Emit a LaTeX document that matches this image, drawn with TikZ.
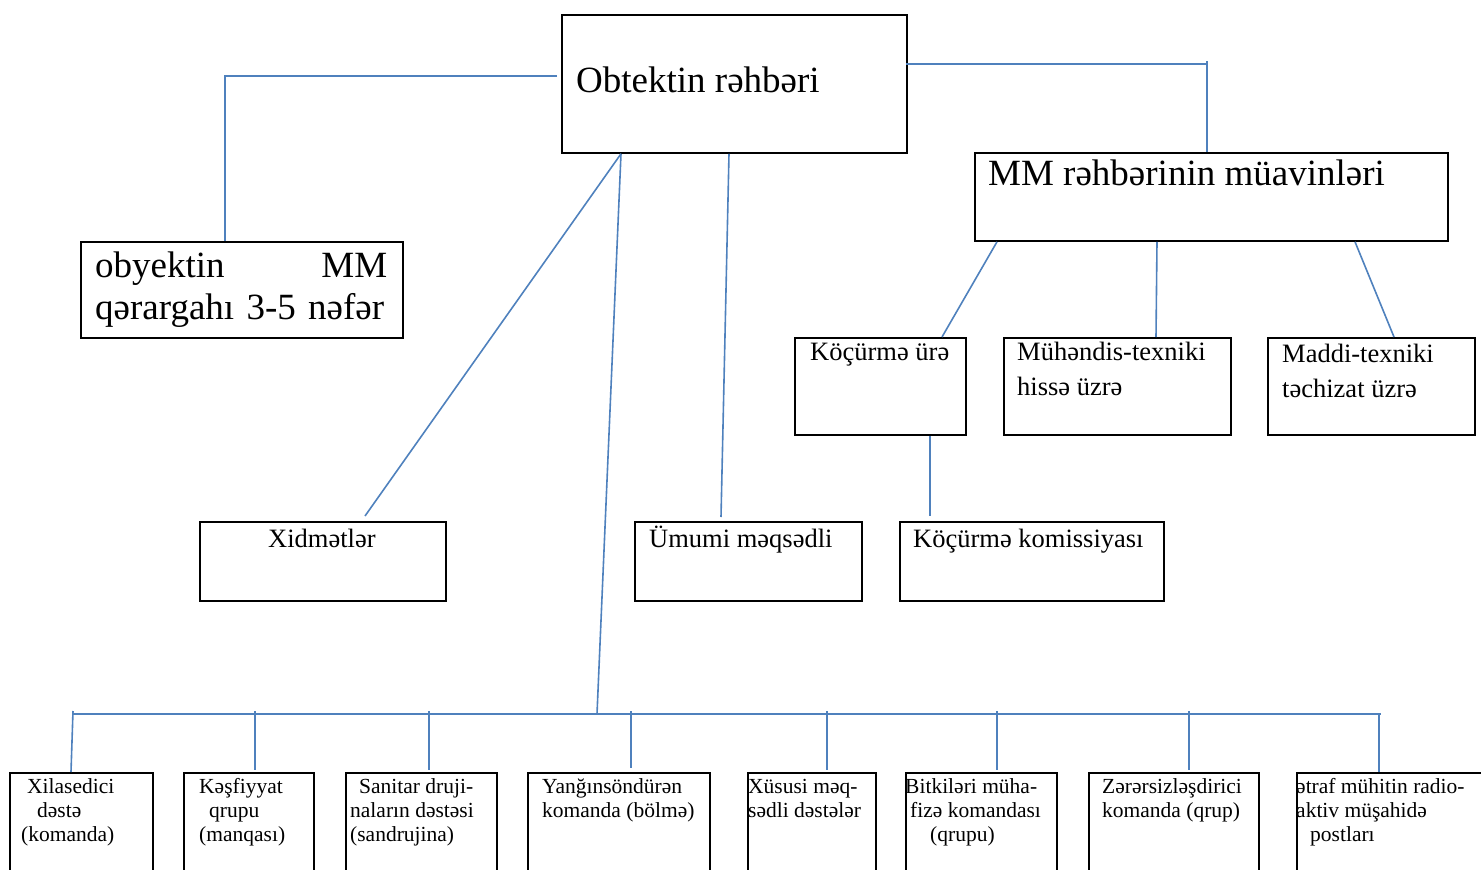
\documentclass[tikz,border=0pt]{standalone}
\usepackage{fontspec}
\setmainfont{Liberation Serif}
\usetikzlibrary{calc}
\definecolor{lnblue}{HTML}{4F81BD}
\tikzset{
  box/.style={draw=black, line width=1.8pt, inner sep=0pt, anchor=north west},
  conn/.style={draw=lnblue, line width=1.6pt},
  bigtxt/.style={font=\fontsize{37}{42}\selectfont, inner sep=0pt, anchor=base west, align=left},
  midtxt/.style={font=\fontsize{26.5}{35}\selectfont, inner sep=0pt, anchor=base west, align=left},
  smalltxt/.style={font=\fontsize{21.5}{24}\selectfont, inner sep=0pt, anchor=base west, align=left},
}
\begin{document}
\begin{tikzpicture}[x=1pt,y=-1pt]
\useasboundingbox (0,0) rectangle (1481,870);
\clip (0,0) rectangle (1481,870);
% boxes
\node[box, minimum width=345pt, minimum height=138pt] (top) at (561,14) {};
\node[box, minimum width=473pt, minimum height=88pt] (dep) at (974,152) {};
\node[box, minimum width=322pt, minimum height=96pt] (hq) at (80,241) {};
\node[box, minimum width=171pt, minimum height=97pt] (kocur) at (794,337) {};
\node[box, minimum width=227pt, minimum height=97pt] (muh) at (1003,337) {};
\node[box, minimum width=207pt, minimum height=97pt] (mad) at (1267,337) {};
\node[box, minimum width=246pt, minimum height=79pt] (xid) at (199,521) {};
\node[box, minimum width=227pt, minimum height=79pt] (umu) at (634,521) {};
\node[box, minimum width=264pt, minimum height=79pt] (kom) at (899,521) {};
\node[box, minimum width=143pt, minimum height=130pt] (b1) at (9,772) {};
\node[box, minimum width=130pt, minimum height=130pt] (b2) at (183,772) {};
\node[box, minimum width=151pt, minimum height=130pt] (b3) at (345,772) {};
\node[box, minimum width=182pt, minimum height=130pt] (b4) at (527,772) {};
\node[box, minimum width=128pt, minimum height=130pt] (b5) at (747,772) {};
\node[box, minimum width=151pt, minimum height=130pt] (b6) at (905,772) {};
\node[box, minimum width=170pt, minimum height=130pt] (b7) at (1088,772) {};
\node[box, minimum width=195pt, minimum height=130pt] (b8) at (1296,772) {};
% texts (anchor = baseline of the last line)
\node[bigtxt] (ttop) at (576,92) {Obtektin rəhbəri};
\node[bigtxt] (tdep) at (988,185) {MM rəhbərinin müavinləri};
\node[bigtxt, text width=292pt, align=left] (thq) at (95,277) {\hbox to 292pt{obyektin\hfill MM}\\qərargahı 3-5 nəfər};
\node[midtxt] (tkocur) at (810,360) {Köçürmə ürə};
\node[midtxt] (tmuh) at (1017,395) {Mühəndis-texniki\\hissə üzrə};
\node[midtxt] (tmad) at (1282,397) {Maddi-texniki\\təchizat üzrə};
\node[midtxt] (txid) at (268,547) {Xidmətlər};
\node[midtxt] (tumu) at (649,547) {Ümumi məqsədli};
\node[midtxt] (tkom) at (913,547) {Köçürmə komissiyası};
\node[smalltxt] (tb1) at (21,841) {\hspace*{6pt}Xilasedici\\\hspace*{16pt}dəstə\\(komanda)};
\node[smalltxt] (tb2) at (199,841) {Kəşfiyyat\\\hspace*{10pt}qrupu\\(manqası)};
\node[smalltxt] (tb3) at (350,841) {\hspace*{9pt}Sanitar druji-\\naların dəstəsi\\(sandrujina)};
\node[smalltxt] (tb4) at (542,817) {Yanğınsöndürən\\komanda (bölmə)};
\node[smalltxt] (tb5) at (748,817) {Xüsusi məq-\\sədli dəstələr};
\node[smalltxt] (tb6) at (905,841) {Bitkiləri müha-\\\hspace*{5pt}fizə komandası\\\hspace*{25pt}(qrupu)};
\node[smalltxt] (tb7) at (1102,817) {Zərərsizləşdirici\\komanda (qrup)};
\node[smalltxt] (tb8) at (1296,841) {ətraf mühitin radio-\\aktiv müşahidə\\\hspace*{14pt}postları};
% connectors
\draw[conn] ($(top.north west)+(-4,62)$) -| ($(hq.north west)+(145,0)$);
\draw[conn] ($(top.north east)+(-2,50)$) -- ($(dep.north west)+(233,50-138)$);
\draw[conn] ($(dep.north west)+(233,-91)$) -- ($(dep.north west)+(233,0)$);
\draw[conn] ($(top.south west)+(60,0)$) -- ($(xid.north west)+(166,-5)$);
\coordinate (busL) at (73,714);
\coordinate (busR) at (1381,714);
\draw[conn] ($(top.south west)+(60,0)$) -- ($(busL)+(524,0)$);
\draw[conn] ($(top.south west)+(168,0)$) -- ($(umu.north west)+(87,-4)$);
\draw[conn] ($(dep.south west)+(23,0)$) -- ($(kocur.north west)+(148,0)$);
\draw[conn] ($(dep.south west)+(183,0)$) -- ($(muh.north west)+(153,0)$);
\draw[conn] ($(dep.south west)+(381,0)$) -- ($(mad.north west)+(127,0)$);
\draw[conn] ($(kocur.south west)+(136,0)$) -- ($(kom.north west)+(31,-5)$);
\draw[conn] (busL) -- (busR);
\draw[conn] ($(b1.north west)+(64,-61)$) -- ($(b1.north west)+(62,0)$);
\draw[conn] ($(b2.north west)+(72,-61)$) -- ($(b2.north west)+(72,-2)$);
\draw[conn] ($(b3.north west)+(84,-61)$) -- ($(b3.north west)+(84,-2)$);
\draw[conn] ($(b4.north west)+(104,-61)$) -- ($(b4.north west)+(104,-4)$);
\draw[conn] ($(b5.north west)+(80,-61)$) -- ($(b5.north west)+(80,-2)$);
\draw[conn] ($(b6.north west)+(92,-61)$) -- ($(b6.north west)+(92,-2)$);
\draw[conn] ($(b7.north west)+(101,-61)$) -- ($(b7.north west)+(101,-2)$);
\draw[conn] ($(b8.north west)+(83,-58)$) -- ($(b8.north west)+(83,0)$);
\end{tikzpicture}
\end{document}
